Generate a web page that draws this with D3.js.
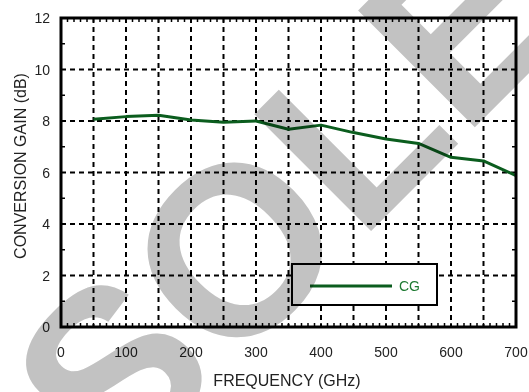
<!DOCTYPE html>
<html>
<head>
<meta charset="utf-8">
<script src="https://cdn.jsdelivr.net/npm/d3@7"></script>
<style>
  body { margin: 0; background: #fff; }
  text { font-family: "Liberation Sans", Arial, sans-serif; }
</style>
</head>
<body>
<div id="chart"></div>
<script>
// chart data
const freq = [50, 100, 150, 200, 250, 300, 350, 400, 450, 500, 550, 600, 650, 700];
const gain = [8.07, 8.17, 8.22, 8.04, 7.95, 8.0, 7.68, 7.84, 7.55, 7.3, 7.13, 6.59, 6.45, 5.88];
const xTicks = [0, 100, 200, 300, 400, 500, 600, 700];
const yTicks = [0, 2, 4, 6, 8, 10, 12];
const seriesName = "CG";

const width = 529, height = 392;
const margin = { top: 18, right: 13, bottom: 65, left: 61 };
const green = "#0b5d1e";

const svg = d3.select("#chart").append("svg")
  .attr("width", width)
  .attr("height", height);

const x = d3.scaleLinear().domain([0, 700]).range([margin.left, width - margin.right]);
const y = d3.scaleLinear().domain([0, 12]).range([height - margin.bottom, margin.top]);

// grid
const grid = svg.append("g")
  .attr("stroke", "#000")
  .attr("stroke-width", 2)
  .attr("stroke-dasharray", "5,4");

grid.selectAll(".gx")
  .data(d3.range(50, 700, 50))
  .join("line")
  .attr("x1", d => x(d)).attr("x2", d => x(d))
  .attr("y1", y(12)).attr("y2", y(0));

grid.selectAll(".gy")
  .data([2, 4, 6, 8, 10])
  .join("line")
  .attr("x1", x(0)).attr("x2", x(700))
  .attr("y1", d => y(d)).attr("y2", d => y(d));

// minor ticks
const minor = svg.append("g").attr("stroke", "#000").attr("stroke-width", 1.5);
const xMinor = d3.range(10, 700, 10);
minor.selectAll(".tb").data(xMinor).join("line")
  .attr("x1", d => x(d)).attr("x2", d => x(d))
  .attr("y1", y(0)).attr("y2", y(0) - 4);
minor.selectAll(".tt").data(xMinor).join("line")
  .attr("x1", d => x(d)).attr("x2", d => x(d))
  .attr("y1", y(12)).attr("y2", y(12) + 4);
const yMinor = d3.range(1, 12, 2);
minor.selectAll(".tl").data(yMinor).join("line")
  .attr("x1", x(0)).attr("x2", x(0) + 4)
  .attr("y1", d => y(d)).attr("y2", d => y(d));
minor.selectAll(".tr").data(yMinor).join("line")
  .attr("x1", x(700)).attr("x2", x(700) - 4)
  .attr("y1", d => y(d)).attr("y2", d => y(d));

// series line
const line = d3.line().x((d, i) => x(freq[i])).y(d => y(d));
svg.append("path")
  .datum(gain)
  .attr("fill", "none")
  .attr("stroke", green)
  .attr("stroke-width", 3)
  .attr("stroke-linejoin", "round")
  .attr("d", line);

// frame
svg.append("rect")
  .attr("x", x(0)).attr("y", y(12))
  .attr("width", x(700) - x(0))
  .attr("height", y(0) - y(12))
  .attr("fill", "none")
  .attr("stroke", "#000")
  .attr("stroke-width", 3);

// tick labels
svg.selectAll(".xl").data(xTicks).join("text")
  .attr("x", d => x(d))
  .attr("y", y(0) + 30)
  .attr("text-anchor", "middle")
  .attr("font-size", 14)
  .attr("fill", "#222")
  .text(d => d);

svg.selectAll(".yl").data(yTicks).join("text")
  .attr("x", x(0) - 11)
  .attr("y", d => y(d) + 5)
  .attr("text-anchor", "end")
  .attr("font-size", 14)
  .attr("fill", "#222")
  .text(d => d);

// axis titles
svg.append("text")
  .attr("x", 287)
  .attr("y", 386)
  .attr("text-anchor", "middle")
  .attr("font-size", 16)
  .attr("fill", "#222")
  .text("FREQUENCY (GHz)");

svg.append("text")
  .attr("transform", "translate(26,166) rotate(-90)")
  .attr("text-anchor", "middle")
  .attr("font-size", 16)
  .attr("fill", "#222")
  .text("CONVERSION GAIN (dB)");

// legend
const lg = svg.append("g");
lg.append("rect")
  .attr("x", 292).attr("y", 264)
  .attr("width", 145).attr("height", 41)
  .attr("fill", "#fff")
  .attr("stroke", "#000")
  .attr("stroke-width", 2);
lg.append("line")
  .attr("x1", 310).attr("x2", 392)
  .attr("y1", 286).attr("y2", 286)
  .attr("stroke", green)
  .attr("stroke-width", 3);
lg.append("text")
  .attr("x", 399).attr("y", 291)
  .attr("font-size", 14)
  .attr("fill", "#1f7a33")
  .text(seriesName);

// watermark, multiplied over everything
svg.append("text")
  .attr("transform", "translate(-140,742) rotate(-45)")
  .attr("font-size", 240)
  .attr("font-weight", "bold")
  .attr("fill", "#c2c2c2")
  .style("mix-blend-mode", "multiply")
  .text("OBSOLETE");
</script>
</body>
</html>
